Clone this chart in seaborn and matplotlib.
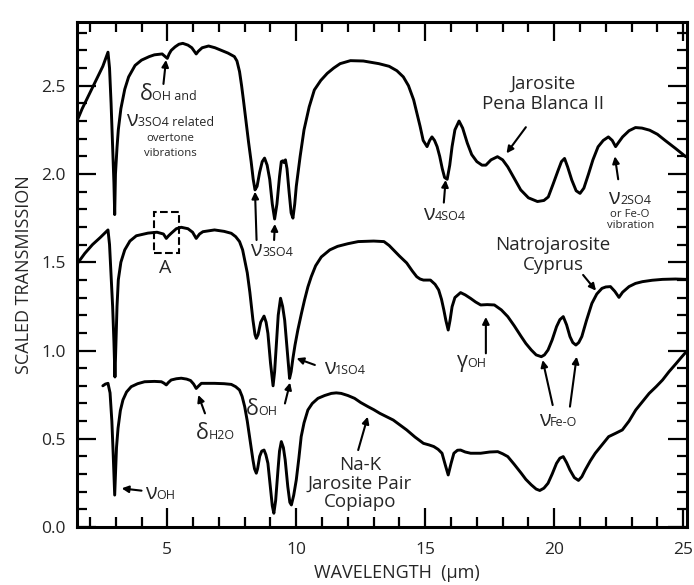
import matplotlib
matplotlib.use("Agg")
import matplotlib.pyplot as plt
import pandas as pd
import seaborn as sns
from matplotlib.offsetbox import AnnotationBbox, HPacker, TextArea
from matplotlib.patches import Rectangle
from matplotlib.ticker import MultipleLocator

# Jarosite Pena Blanca II (top)
wl_top = [1.5, 1.7, 1.9, 2.1, 2.3, 2.5, 2.7, 2.76, 2.82, 2.88, 2.93, 2.96, 2.99, 3.05, 3.1,
          3.2, 3.35, 3.5, 3.75, 4.0, 4.3, 4.5, 4.8, 4.92, 5.0, 5.07, 5.15, 5.3, 5.45, 5.6,
          5.8, 5.95, 6.05, 6.12, 6.2, 6.35, 6.6, 6.85, 7.1, 7.35, 7.6, 7.7, 7.8, 7.88, 7.95,
          8.05, 8.15, 8.25, 8.33, 8.4, 8.48, 8.58, 8.68, 8.77, 8.87, 8.97, 9.07, 9.16, 9.25,
          9.35, 9.42, 9.48, 9.52, 9.58, 9.64, 9.72, 9.8, 9.87, 9.94, 10.0, 10.15, 10.3, 10.5,
          10.7, 10.95, 11.2, 11.45, 11.7, 12.1, 12.6, 13.2, 13.6, 13.9, 14.15, 14.35, 14.55,
          14.7, 14.8, 14.92, 15.07, 15.17, 15.26, 15.36, 15.46, 15.56, 15.66, 15.75, 15.85,
          15.95, 16.04, 16.15, 16.31, 16.45, 16.63, 16.8, 17.0, 17.2, 17.35, 17.55, 17.8,
          18.0, 18.2, 18.45, 18.7, 19.0, 19.35, 19.6, 19.77, 19.95, 20.15, 20.28, 20.4,
          20.52, 20.68, 20.85, 21.0, 21.15, 21.33, 21.5, 21.7, 21.9, 22.1, 22.25, 22.38,
          22.5, 22.65, 22.9, 23.15, 23.4, 23.7, 24.0, 24.3, 24.7, 25.1]
tr_top = [2.30, 2.37, 2.43, 2.49, 2.55, 2.61, 2.69, 2.60, 2.40, 2.15, 1.95, 1.77, 2.00, 2.15, 2.25,
          2.37, 2.48, 2.55, 2.615, 2.645, 2.665, 2.675, 2.68, 2.665, 2.655, 2.68, 2.70, 2.72, 2.735, 2.74,
          2.73, 2.715, 2.695, 2.68, 2.695, 2.715, 2.725, 2.715, 2.70, 2.685, 2.665, 2.64, 2.58, 2.50, 2.42,
          2.30, 2.18, 2.07, 1.97, 1.91, 1.93, 2.01, 2.07, 2.09, 2.05, 1.97, 1.83, 1.745, 1.83,
          1.985, 2.07, 2.075, 2.065, 2.08, 2.03, 1.90, 1.78, 1.75, 1.83, 1.93, 2.10, 2.25, 2.38,
          2.476, 2.53, 2.57, 2.60, 2.625, 2.642, 2.64, 2.625, 2.61, 2.585, 2.55, 2.50, 2.42,
          2.33, 2.27, 2.19, 2.155, 2.19, 2.21, 2.19, 2.155, 2.10, 2.03, 1.98, 1.97,
          2.05, 2.155, 2.25, 2.30, 2.26, 2.175, 2.11, 2.07, 2.05, 2.05, 2.08, 2.098,
          2.08, 2.04, 1.975, 1.91, 1.865, 1.844, 1.85, 1.87, 1.94, 2.02, 2.07, 2.088,
          2.04, 1.966, 1.905, 1.89, 1.92, 2.0, 2.08, 2.154, 2.19, 2.21, 2.19, 2.155,
          2.18, 2.21, 2.245, 2.263, 2.26, 2.248, 2.225, 2.19, 2.145, 2.098]

# Natrojarosite Cyprus (middle)
wl_mid = [1.5, 1.8, 2.1, 2.4, 2.7, 2.76, 2.82, 2.88, 2.93, 2.97, 3.0, 3.05, 3.1, 3.2, 3.35,
          3.55, 3.8, 4.25, 4.6, 4.85, 4.96, 5.05, 5.15, 5.35, 5.54, 5.8, 5.98, 6.12, 6.25,
          6.38, 6.83, 7.2, 7.48, 7.65, 7.8, 7.92, 8.0, 8.1, 8.2, 8.32, 8.4, 8.45, 8.52, 8.62,
          8.75, 8.83, 8.9, 9.0, 9.1, 9.16, 9.22, 9.3, 9.39, 9.47, 9.55, 9.65, 9.74, 9.8, 9.87,
          9.95, 10.06, 10.2, 10.32, 10.45, 10.58, 10.75, 10.97, 11.3, 11.6, 12.0, 12.4, 13.0,
          13.4, 13.6, 13.76, 14.0, 14.28, 14.5, 14.67, 14.8, 14.93, 15.2, 15.38, 15.52, 15.63,
          15.72, 15.8, 15.89, 15.96, 16.04, 16.15, 16.37, 16.55, 16.76, 16.95, 17.15, 17.4,
          17.68, 17.95, 18.2, 18.45, 18.72, 18.9, 19.11, 19.3, 19.5, 19.62, 19.76, 19.92,
          20.09, 20.22, 20.35, 20.48, 20.61, 20.72, 20.84, 20.95, 21.07, 21.25, 21.46, 21.65,
          21.85, 22.0, 22.18, 22.35, 22.51, 22.65, 22.9, 23.15, 23.42, 23.8, 24.2, 24.7, 25.12]
tr_mid = [1.49, 1.55, 1.60, 1.64, 1.683, 1.60, 1.42, 1.25, 1.05, 0.85, 1.0, 1.25, 1.40, 1.50, 1.57,
          1.62, 1.65, 1.665, 1.67, 1.66, 1.635, 1.65, 1.664, 1.69, 1.698, 1.69, 1.67, 1.635, 1.66,
          1.673, 1.683, 1.675, 1.664, 1.645, 1.617, 1.57, 1.513, 1.44, 1.33, 1.172, 1.09, 1.069, 1.09, 1.16,
          1.195, 1.16, 1.097, 0.93, 0.80, 0.88, 1.02, 1.20, 1.296, 1.25, 1.172, 1.00, 0.842, 0.88, 0.956,
          1.03, 1.116, 1.21, 1.286, 1.36, 1.418, 1.48, 1.53, 1.57, 1.59, 1.605, 1.617, 1.62,
          1.617, 1.595, 1.571, 1.535, 1.496, 1.45, 1.418, 1.405, 1.399, 1.399, 1.375, 1.343, 1.29,
          1.23, 1.17, 1.116, 1.17, 1.248, 1.30, 1.328, 1.315, 1.295, 1.275, 1.258, 1.26,
          1.258, 1.23, 1.192, 1.14, 1.079, 1.04, 1.003, 0.975, 0.965, 0.975, 1.003, 1.06,
          1.135, 1.175, 1.192, 1.145, 1.079, 1.045, 1.031, 1.045, 1.079, 1.17, 1.267, 1.32,
          1.352, 1.36, 1.362, 1.335, 1.301, 1.33, 1.362, 1.38, 1.39, 1.398, 1.403, 1.405, 1.403]

# Na-K Jarosite Pair Copiapo (bottom)
wl_bot = [2.5, 2.6, 2.7, 2.78, 2.85, 2.9, 2.94, 2.96, 2.99, 3.03, 3.09, 3.18, 3.28, 3.42, 3.6,
          3.85, 4.12, 4.5, 4.77, 4.87, 4.96, 5.05, 5.15, 5.35, 5.54, 5.75, 5.9, 6.02, 6.12,
          6.22, 6.32, 6.83, 7.2, 7.48, 7.65, 7.8, 7.9, 8.0, 8.1, 8.19, 8.26, 8.32, 8.38, 8.45,
          8.5, 8.58, 8.66, 8.75, 8.82, 8.9, 9.0, 9.07, 9.13, 9.2, 9.29, 9.35, 9.42, 9.5, 9.57,
          9.67, 9.75, 9.81, 9.9, 10.0, 10.1, 10.19, 10.3, 10.45, 10.62, 10.84, 11.1, 11.36,
          11.55, 11.74, 12.0, 12.26, 12.5, 12.78, 13.0, 13.24, 13.5, 13.76, 14.0, 14.28, 14.6,
          14.93, 15.15, 15.33, 15.5, 15.65, 15.78, 15.89, 16.0, 16.11, 16.25, 16.37, 16.55,
          16.76, 17.15, 17.5, 17.81, 18.0, 18.2, 18.45, 18.72, 18.9, 19.11, 19.3, 19.44, 19.6,
          19.76, 19.92, 20.09, 20.22, 20.35, 20.48, 20.61, 20.78, 20.94, 21.07, 21.2, 21.4,
          21.59, 21.85, 22.11, 22.38, 22.64, 22.9, 23.16, 23.42, 23.68, 23.95, 24.2, 24.45,
          24.73, 24.95, 25.12]
tr_bot = [0.80, 0.81, 0.814, 0.76, 0.60, 0.42, 0.25, 0.181, 0.30, 0.45, 0.56, 0.66, 0.72, 0.765, 0.795,
          0.812, 0.823, 0.825, 0.823, 0.815, 0.805, 0.82, 0.833, 0.84, 0.843, 0.838, 0.83, 0.81, 0.785,
          0.80, 0.814, 0.814, 0.812, 0.808, 0.795, 0.776, 0.74, 0.682, 0.60, 0.512, 0.44, 0.38, 0.33, 0.305,
          0.33, 0.40, 0.43, 0.436, 0.41, 0.361, 0.22, 0.12, 0.078, 0.15, 0.323, 0.43, 0.484, 0.45, 0.38,
          0.23, 0.14, 0.125, 0.18, 0.267, 0.39, 0.512, 0.59, 0.663, 0.70, 0.729, 0.745, 0.757,
          0.76, 0.757, 0.745, 0.729, 0.705, 0.682, 0.665, 0.644, 0.625, 0.606, 0.58, 0.55, 0.51,
          0.474, 0.465, 0.456, 0.44, 0.418, 0.35, 0.295, 0.36, 0.418, 0.435, 0.436, 0.425,
          0.418, 0.418, 0.425, 0.427, 0.415, 0.399, 0.355, 0.305, 0.27, 0.239, 0.215, 0.207, 0.22,
          0.248, 0.30, 0.361, 0.39, 0.399, 0.365, 0.323, 0.28, 0.264, 0.285, 0.323, 0.375,
          0.418, 0.465, 0.512, 0.531, 0.55, 0.60, 0.663, 0.71, 0.757, 0.795, 0.833, 0.88,
          0.927, 0.965, 0.993]

sns.set_style("ticks")
plt.rcParams["font.family"] = ["Open Sans", "DejaVu Sans"]

fig = plt.figure(figsize=(6.94, 5.85), dpi=100)
ax = fig.add_axes([0.111, 0.0991, 0.879, 0.863])

for wl, tr in [(wl_top, tr_top), (wl_mid, tr_mid), (wl_bot, tr_bot)]:
    df = pd.DataFrame({"wl": wl, "tr": tr})
    sns.lineplot(data=df, x="wl", y="tr", sort=False, color="black", lw=2.1, ax=ax)

ax.set_xlim(1.5, 25.15)
ax.set_ylim(0, 2.86)
ax.xaxis.set_major_locator(MultipleLocator(5))
ax.xaxis.set_minor_locator(MultipleLocator(1))
ax.yaxis.set_major_locator(MultipleLocator(0.5))
ax.yaxis.set_minor_locator(MultipleLocator(0.1))
ax.tick_params(which="both", direction="in", top=True, right=True, width=1.6, color="black")
ax.tick_params(which="major", length=14, labelsize=12.5)
ax.tick_params(axis="x", which="major", pad=11)
ax.tick_params(axis="y", which="major", pad=8)
ax.tick_params(which="minor", length=7.5)
ax.yaxis.set_major_formatter(plt.FormatStrFormatter("%.1f"))
for s in ax.spines.values():
    s.set_linewidth(2.2)
    s.set_color("black")

ax.set_xlabel("WAVELENGTH  (\u00b5m)", fontsize=13)
ax.xaxis.set_label_coords(0.525, -0.073)
ax.set_ylabel("SCALED TRANSMISSION", fontsize=13, labelpad=6)


def arrow(x0, y0, x1, y1):
    ax.annotate("", xy=(x1, y1), xytext=(x0, y0),
                arrowprops=dict(arrowstyle="-|>", color="black", lw=1.5,
                                mutation_scale=10, shrinkA=0, shrinkB=0))


def greek(x, y, sym, sub, size=15.5, subsize=9):
    box = HPacker(children=[TextArea(sym, textprops=dict(size=size)),
                            TextArea(sub, textprops=dict(size=subsize))],
                  align="baseline", pad=0, sep=0)
    ab = AnnotationBbox(box, (x, y), xycoords="data", frameon=False,
                        box_alignment=(0.5, 0.5), pad=0)
    ax.add_artist(ab)


# top spectrum labels
greek(5.04, 2.45, "\u03b4", "OH and")
greek(5.10, 2.305, "\u03bd", "3SO4 related")
ax.text(5.10, 2.20, "overtone", fontsize=8.2, ha="center", va="center")
ax.text(5.10, 2.115, "vibrations", fontsize=8.2, ha="center", va="center")
arrow(4.85, 2.51, 4.95, 2.646)

ax.add_patch(Rectangle((4.48, 1.552), 0.97, 0.233, fill=False, ls="--", lw=1.5, ec="black"))
ax.text(4.91, 1.467, "A", fontsize=14, ha="center", va="center")

greek(9.05, 1.569, "\u03bd", "3SO4")
arrow(8.46, 1.626, 8.40, 1.90)
arrow(9.14, 1.626, 9.17, 1.717)

ax.text(19.57, 2.455, "Jarosite\nPena Blanca II", fontsize=13.5, ha="center", va="center",
        linespacing=1.15)
arrow(18.90, 2.265, 18.15, 2.117)

greek(15.76, 1.768, "\u03bd", "4SO4")
arrow(15.72, 1.838, 15.79, 1.966)

greek(22.93, 1.862, "\u03bd", "2SO4")
ax.text(22.93, 1.772, "or Fe-O", fontsize=8.2, ha="center", va="center")
ax.text(22.98, 1.71, "vibration", fontsize=8.2, ha="center", va="center")
arrow(22.48, 1.97, 22.35, 2.10)

# middle spectrum labels
ax.text(19.96, 1.543, "Natrojarosite\nCyprus", fontsize=13.5, ha="center", va="center",
        linespacing=1.15)
arrow(21.12, 1.428, 21.62, 1.339)

greek(16.79, 0.937, "\u03b3", "OH")
arrow(17.35, 0.984, 17.35, 1.19)

greek(20.15, 0.606, "\u03bd", "Fe-O")
arrow(19.94, 0.691, 19.55, 0.946)
arrow(20.61, 0.682, 20.87, 0.965)

greek(11.89, 0.899, "\u03bd", "1SO4")
arrow(10.72, 0.918, 10.01, 0.956)

greek(8.66, 0.663, "\u03b4", "OH")
arrow(9.56, 0.70, 9.76, 0.818)

# bottom spectrum labels
greek(6.85, 0.531, "\u03b4", "H2O")
arrow(6.46, 0.644, 6.20, 0.748)

greek(4.72, 0.191, "\u03bd", "OH")
arrow(4.0, 0.206, 3.23, 0.219)

ax.text(12.47, 0.245, "Na-K\nJarosite Pair\nCopiapo", fontsize=13.5, ha="center", va="center",
        linespacing=1.05)
arrow(12.40, 0.436, 12.77, 0.625)

fig.savefig("out.png", dpi=100)
